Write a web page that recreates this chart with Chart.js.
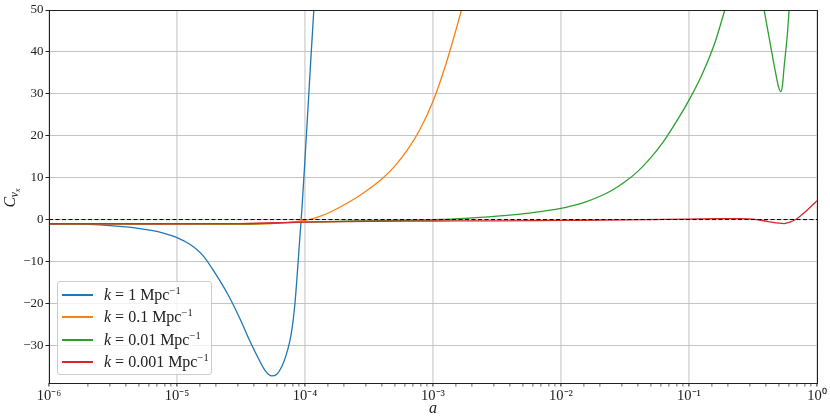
<!DOCTYPE html>
<html lang="en">
<head>
<meta charset="UTF-8">
<title>C_vx against a</title>
<script src="https://cdn.jsdelivr.net/npm/chart.js"></script>
<style>
  body { margin: 0; background: #fff; }
  #wrap { position: relative; width: 830px; height: 420px; }
  #legend {
    position: absolute; left: 57px; top: 281px; width: 155px; height: 94px;
    box-sizing: border-box; border: 1px solid #cccccc; border-radius: 3px;
    background: rgba(255, 255, 255, 0.8);
    font-family: 'Liberation Serif', serif; font-size: 16px; color: #222;
  }
  .row { position: absolute; left: 0; height: 22px; display: flex; align-items: center; white-space: nowrap; }
  .swatch { width: 31px; height: 2px; margin-left: 4px; margin-right: 11px; }
  .row sup { font-size: 10.5px; line-height: 0; }
</style>
</head>
<body>
<div id="wrap">
  <canvas id="myChart" width="830" height="420"></canvas>
  <div id="legend"></div>
</div>
<script>
// log10(a) and C_vx, one pair of arrays per k
const logA1 = [-6.0, -5.8, -5.6, -5.4, -5.2, -5.1, -5.0, -4.9, -4.8, -4.7, -4.6, -4.5, -4.44, -4.36, -4.31, -4.26, -4.22, -4.18, -4.15, -4.12, -4.1, -4.08, -4.06, -4.042, -4.024, -4.0, -3.975, -3.953, -3.931];
const cvx1  = [-1.0, -1.05, -1.25, -1.75, -2.6, -3.3, -4.3, -5.9, -8.5, -12.9, -18.0, -24.2, -28.4, -33.4, -36.1, -37.3, -36.9, -35.0, -32.6, -29.2, -25.8, -20.5, -12.8, -5.0, 2.5, 14.5, 27.5, 39, 50];

const logA2 = [-6.0, -5.5, -5.0, -4.5, -4.3, -4.2, -4.1, -4.0, -3.9, -3.8, -3.7, -3.6, -3.5, -3.4, -3.3, -3.2, -3.1, -3.0, -2.9, -2.8, -2.778];
const cvx2  = [-1.0, -1.02, -1.1, -1.15, -1.0, -0.8, -0.55, -0.2, 0.6, 1.8, 3.4, 5.2, 7.3, 9.7, 12.7, 16.6, 21.6, 28.2, 37.0, 47.5, 50];

const logA3 = [-6.0, -5.0, -4.5, -4.0, -3.5, -3.0, -2.75, -2.5, -2.25, -2.0, -1.9, -1.8, -1.7, -1.6, -1.5, -1.4, -1.3, -1.2, -1.1, -1.0, -0.9, -0.8, -0.72, -0.56, -0.413, -0.361, -0.322, -0.3, -0.283, -0.27, -0.257, -0.231, -0.218];
const cvx3  = [-1.0, -1.05, -1.05, -0.6, -0.3, -0.05, 0.25, 0.8, 1.55, 2.65, 3.4, 4.3, 5.5, 7.0, 9.0, 11.5, 14.7, 18.6, 23.3, 28.5, 34.5, 42.0, 50, null, 50, 41.2, 34.8, 31.6, 30.5, 32.0, 36.4, 44.4, 50];

const logA4 = [-6.0, -5.0, -4.5, -4.0, -3.5, -3.0, -2.5, -2.0, -1.5, -1.0, -0.8, -0.6, -0.47, -0.38, -0.3, -0.257, -0.21, -0.167, -0.1, -0.05, 0];
const cvx4  = [-1.0, -1.0, -0.95, -0.6, -0.4, -0.35, -0.3, -0.2, -0.1, 0.1, 0.2, 0.2, 0, -0.5, -0.85, -0.95, -0.6, 0, 1.6, 3.0, 4.5];

const seriesLabels = ['1', '0.1', '0.01', '0.001'];
const seriesColors = ['#1f77b4', '#ff7f0e', '#2ca02c', '#d62728'];
const yTicks = [-30, -20, -10, 0, 10, 20, 30, 40, 50];
const xTitle = 'a';

const supMap = { '-': '⁻', '0': '⁰', '1': '¹', '2': '²', '3': '³', '4': '⁴', '5': '⁵', '6': '⁶', '7': '⁷', '8': '⁸', '9': '⁹' };
function isDecade(v) {
    const l = Math.log10(v);
    return Math.abs(l - Math.round(l)) < 1e-6;
}
function decadeLabel(v) {
    const e = String(Math.round(Math.log10(v)));
    return '10' + e.split('').map(c => supMap[c]).join('');
}
function toPoints(logs, vals) {
    return logs.map((l, i) => ({ x: Math.pow(10, l), y: vals[i] }));
}

const lines = [[logA1, cvx1], [logA2, cvx2], [logA3, cvx3], [logA4, cvx4]];
const datasets = lines.map((s, i) => ({
    label: 'k = ' + seriesLabels[i] + ' Mpc-1',
    data: toPoints(s[0], s[1]),
    borderColor: seriesColors[i],
    borderWidth: 1.3,
    pointRadius: 0,
    cubicInterpolationMode: 'monotone',
    spanGaps: false,
    order: 4 - i
}));
// dashed zero line
datasets.push({
    label: 'zero',
    data: [{ x: 1e-6, y: 0 }, { x: 1, y: 0 }],
    borderColor: '#000',
    borderWidth: 1,
    borderDash: [4, 2.5],
    pointRadius: 0,
    order: 0
});

const frame = {
    id: 'frame',
    afterDatasetsDraw(chart) {
        const a = chart.chartArea;
        const ctx = chart.ctx;
        ctx.save();
        ctx.strokeStyle = '#222';
        ctx.lineWidth = 1;
        ctx.strokeRect(Math.round(a.left) + 0.5, Math.round(a.top) + 0.5, Math.round(a.right - a.left), Math.round(a.bottom - a.top));
        ctx.restore();
    },
    afterDraw(chart) {
        const a = chart.chartArea;
        const ctx = chart.ctx;
        ctx.save();
        ctx.fillStyle = '#222';
        ctx.textBaseline = 'alphabetic';
        ctx.textAlign = 'center';
        ctx.font = 'italic 16px "Liberation Serif"';
        ctx.fillText(xTitle, (a.left + a.right) / 2, 413);
        // C_{v_x}, rotated
        ctx.translate(15, (a.top + a.bottom) / 2);
        ctx.rotate(-Math.PI / 2);
        ctx.textAlign = 'left';
        ctx.font = 'italic 16px "Liberation Serif"';
        let x = -11;
        ctx.fillText('C', x, 0);
        x += ctx.measureText('C').width - 0.5;
        ctx.font = 'italic 11.5px "Liberation Serif"';
        ctx.fillText('v', x, 3);
        x += ctx.measureText('v').width;
        ctx.font = 'italic 8.5px "Liberation Serif"';
        ctx.fillText('x', x, 5);
        ctx.restore();
    }
};

const ctx = document.getElementById('myChart').getContext('2d');
const myChart = new Chart(ctx, {
    type: 'line',
    data: { datasets: datasets },
    options: {
        responsive: false,
        animation: false,
        layout: { padding: { left: 0, right: 13, top: 10, bottom: 0 } },
        plugins: { legend: { display: false }, tooltip: { enabled: false } },
        scales: {
            x: {
                type: 'logarithmic',
                min: 1e-6,
                max: 1,
                afterFit(s) { s.height = 37; },
                grid: {
                    color: c => isDecade(c.tick.value) ? '#dddddd' : 'rgba(0,0,0,0)',
                    lineWidth: 1.8,
                    tickColor: '#222',
                    tickLength: 3.5,
                    tickWidth: c => isDecade(c.tick.value) ? 1 : 0.7
                },
                border: { display: false },
                ticks: {
                    autoSkip: false,
                    maxRotation: 0,
                    minRotation: 0,
                    padding: 1,
                    color: '#222',
                    font: { family: 'Liberation Serif', size: 14.5 },
                    callback: v => isDecade(v) ? decadeLabel(v) : ''
                }
            },
            y: {
                min: -39,
                max: 50,
                afterFit(s) { s.width = 49; },
                afterBuildTicks(s) { s.ticks = yTicks.map(v => ({ value: v })); },
                grid: { color: '#c4c4c4', lineWidth: 1, tickColor: '#222', tickLength: 3.5 },
                border: { display: false },
                ticks: {
                    padding: 2,
                    color: '#222',
                    font: { family: 'Liberation Serif', size: 13 },
                    callback: v => String(v).replace('-', '\u2212')
                }
            }
        }
    },
    plugins: [frame]
});

// legend box, built from the datasets
const rowTops = [2, 24, 47, 69];
document.getElementById('legend').innerHTML = lines.map((s, i) =>
    `<div class="row" style="top:${rowTops[i]}px"><span class="swatch" style="background:${seriesColors[i]}"></span>` +
    `<span><i>k</i> = ${seriesLabels[i]} Mpc<sup>\u22121</sup></span></div>`
).join('');
</script>
</body>
</html>
